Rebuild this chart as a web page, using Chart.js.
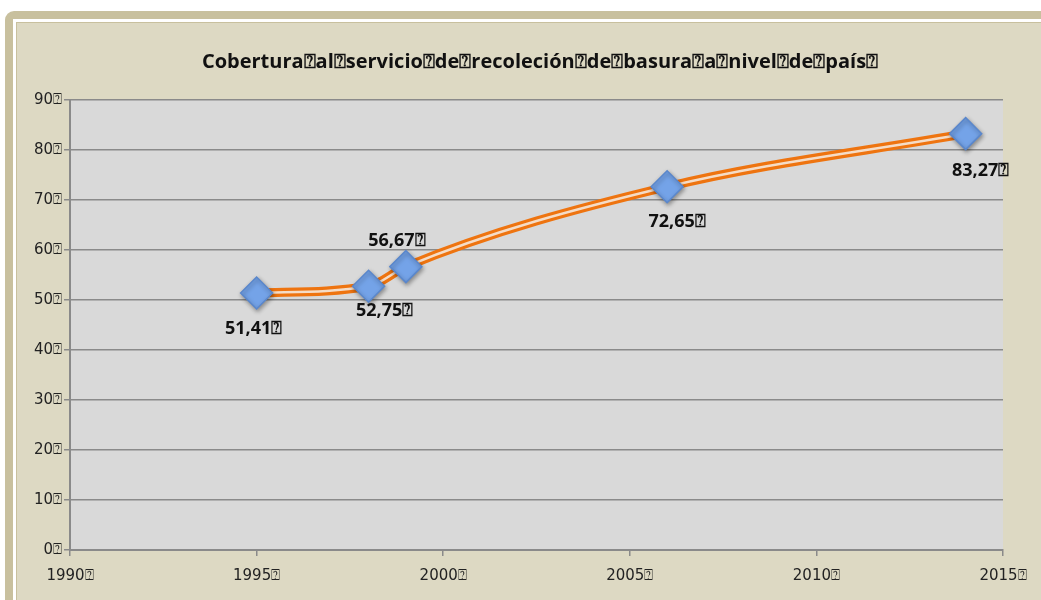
<!DOCTYPE html>
<html>
<head>
<meta charset="utf-8">
<script src="https://cdn.jsdelivr.net/npm/chart.js@4.4.1/dist/chart.umd.min.js"></script>
<style>
  html, body { margin: 0; padding: 0; background: #ffffff; }
  #frame {
    position: absolute; left: 5px; top: 11px; width: 1050px; height: 600px;
    background: #c8c09e; border-radius: 9px;
  }
  #inner {
    position: absolute; left: 8px; top: 8px; right: 0; bottom: 0;
    background: #ddd9c3; border: 3px solid #ffffff; border-right: none; border-bottom: none;
    box-shadow: inset 1px 1px 0 #c8c09e;
  }
  #wrap { position: absolute; left: 0; top: 0; width: 1041px; height: 600px; }
</style>
</head>
<body>
<div id="frame"><div id="inner"></div></div>
<div id="wrap"><canvas id="chart" width="1041" height="600"></canvas></div>
<script>
// missing-glyph box that the original shows in place of spaces
const box = "\u2370";

const titleText = ["Cobertura", "al", "servicio", "de", "recoleción", "de", "basura", "a", "nivel", "de", "país", ""].join(box);
const years = [1995, 1998, 1999, 2006, 2014];
const values = [51.41, 52.75, 56.67, 72.65, 83.27];
const valueLabels = ["51,41", "52,75", "56,67", "72,65", "83,27"];
// where each label sits relative to its point: [dx, dy]
const labelOffsets = [[-3, 36], [16, 25], [-9, -26], [10, 35], [15, 37]];

const points = years.map((y, i) => ({ x: y, y: values[i] }));

const plotBg = {
  id: "plotBg",
  beforeDraw(chart) {
    const a = chart.chartArea, ctx = chart.ctx;
    ctx.save();
    ctx.fillStyle = "#d9d9d9";
    ctx.fillRect(a.left, a.top, a.right - a.left, a.bottom - a.top);
    ctx.restore();
  }
};

const chartTitle = {
  id: "chartTitle",
  afterDraw(chart) {
    const ctx = chart.ctx;
    ctx.save();
    ctx.font = "bold 20px 'Open Sans'";
    ctx.fillStyle = "#111111";
    ctx.textAlign = "center";
    ctx.textBaseline = "middle";
    ctx.fillText(titleText, 540, 62);
    ctx.restore();
  }
};

const pointShadow = {
  id: "pointShadow",
  beforeDatasetDraw(chart, args) {
    if (args.index === 2) {
      chart.ctx.save();
      chart.ctx.shadowColor = "rgba(0,0,0,0.35)";
      chart.ctx.shadowBlur = 4;
      chart.ctx.shadowOffsetX = 1;
      chart.ctx.shadowOffsetY = 2;
    }
  },
  afterDatasetDraw(chart, args) {
    if (args.index === 2) chart.ctx.restore();
  }
};

const valueLabelsPlugin = {
  id: "valueLabels",
  afterDatasetsDraw(chart) {
    const ctx = chart.ctx;
    const meta = chart.getDatasetMeta(2);
    ctx.save();
    ctx.font = "bold 18px 'Open Sans'";
    ctx.fillStyle = "#111111";
    ctx.textAlign = "center";
    ctx.textBaseline = "middle";
    meta.data.forEach((pt, i) => {
      const off = labelOffsets[i];
      ctx.fillText(valueLabels[i] + box, pt.x + off[0], pt.y + off[1]);
    });
    ctx.restore();
  }
};

new Chart(document.getElementById("chart"), {
  type: "line",
  data: {
    datasets: [
      {
        data: points, borderColor: "#ee7410", borderWidth: 9,
        pointRadius: 0, cubicInterpolationMode: "monotone", order: 2
      },
      {
        data: points, borderColor: "#f5dcc6", borderWidth: 2.5,
        pointRadius: 0, cubicInterpolationMode: "monotone", order: 1
      },
      {
        data: points, showLine: false, pointStyle: "rectRot", pointRadius: 16,
        pointBackgroundColor: "#74a3e8", pointBorderColor: "#5a87cc", pointBorderWidth: 1.5,
        order: 0
      }
    ]
  },
  options: {
    responsive: false,
    animation: false,
    layout: { padding: { left: 0, right: 38, top: 100, bottom: 0 } },
    plugins: {
      legend: { display: false },
      tooltip: { enabled: false },
      title: { display: false }
    },
    scales: {
      x: {
        type: "linear", min: 1990, max: 2015,
        afterFit(s) { s.height = 50; },
        border: { color: "#8a8a8a", width: 2 },
        grid: { drawOnChartArea: false, drawTicks: true, tickLength: 6, color: "#8a8a8a", lineWidth: 1.5 },
        ticks: {
          stepSize: 5, padding: 11, color: "#222222",
          font: { family: "'DejaVu Sans'", size: 15 },
          callback: v => v + box
        }
      },
      y: {
        min: 0, max: 90,
        afterFit(s) { s.width = 70; },
        border: { color: "#8a8a8a", width: 2 },
        grid: { color: "#8a8a8a", lineWidth: 1.5, tickLength: 6 },
        ticks: {
          stepSize: 10, padding: 2, color: "#222222",
          font: { family: "'DejaVu Sans'", size: 15 },
          callback: v => v + box
        }
      }
    }
  },
  plugins: [plotBg, pointShadow, valueLabelsPlugin, chartTitle]
});
</script>
</body>
</html>
